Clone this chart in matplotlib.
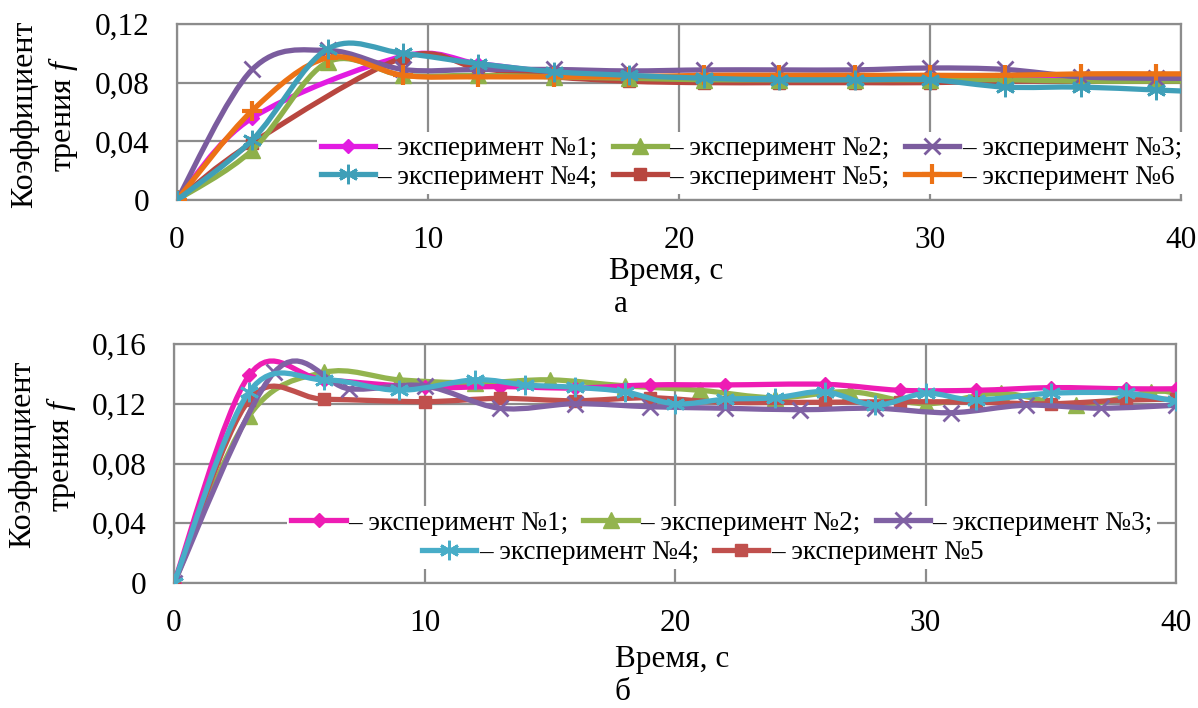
import numpy as np
import matplotlib
matplotlib.use("Agg")
import matplotlib.pyplot as plt
from matplotlib.path import Path
from matplotlib.patches import PathPatch
from matplotlib.lines import Line2D

plt.rcParams['font.family'] = ['Liberation Serif', 'DejaVu Serif']
plt.rcParams['mathtext.fontset'] = 'custom'
plt.rcParams['mathtext.it'] = 'Liberation Serif:italic'
plt.rcParams['mathtext.rm'] = 'Liberation Serif'

# ---- data: panel (а) ----
t_a = [0, 3, 6, 9, 12, 15, 18, 21, 24, 27, 30, 33, 36, 39, 42]
t_a15 = [0, 3, 9, 12, 15, 18, 21, 24, 27, 30, 33, 36, 39, 42]  # no reading at 6 s
f_a1 = [0, 0.056, 0.098, 0.093, 0.087, 0.084, 0.083, 0.083, 0.083, 0.083, 0.083, 0.083, 0.083, 0.083]
f_a2 = [0, 0.034, 0.094, 0.085, 0.085, 0.084, 0.083, 0.082, 0.082, 0.082, 0.082, 0.082, 0.081, 0.081, 0.081]
f_a3 = [0, 0.089, 0.102, 0.089, 0.089, 0.089, 0.088, 0.0887, 0.0887, 0.0887, 0.090, 0.089, 0.084, 0.083, 0.083]
f_a4 = [0, 0.041, 0.103, 0.100, 0.093, 0.0875, 0.085, 0.083, 0.082, 0.082, 0.082, 0.077, 0.077, 0.075, 0.073]
f_a5 = [0, 0.039, 0.097, 0.090, 0.084, 0.081, 0.080, 0.080, 0.080, 0.080, 0.081, 0.081, 0.081, 0.081]
f_a6 = [0, 0.061, 0.097, 0.085, 0.084, 0.084, 0.084, 0.085, 0.085, 0.085, 0.085, 0.085, 0.086, 0.086, 0.086]

# ---- data: panel (б) ----
t_b1 = [0, 3, 6, 10, 13, 16, 19, 22, 26, 29, 32, 35, 38, 40]
f_b1 = [0, 0.139, 0.136, 0.131, 0.1315, 0.1305, 0.1326, 0.1326, 0.133, 0.129, 0.129, 0.1308, 0.130, 0.130]
t_b2 = [0, 3, 6, 9, 12, 15, 18, 21, 24, 27, 30, 33, 36, 39, 40]
f_b2 = [0, 0.112, 0.141, 0.136, 0.134, 0.136, 0.132, 0.129, 0.124, 0.128, 0.120, 0.127, 0.119, 0.128, 0.127]
t_b3 = [0, 4, 7, 10, 13, 16, 19, 22, 25, 28, 31, 34, 37, 40]
f_b3 = [0, 0.141, 0.130, 0.132, 0.117, 0.120, 0.118, 0.117, 0.116, 0.117, 0.114, 0.119, 0.117, 0.119]
t_b4 = [0, 3, 6, 9, 12, 14, 16, 18, 20, 22, 24, 26, 28, 30, 32, 35, 38, 40]
f_b4 = [0, 0.128, 0.136, 0.129, 0.136, 0.1326, 0.131, 0.128, 0.120, 0.123, 0.124, 0.128, 0.119, 0.127, 0.1225, 0.127, 0.127, 0.1216]
t_b5 = [0, 3, 6, 10, 13, 16, 19, 22, 26, 29, 32, 35, 38, 40]
f_b5 = [0, 0.1225, 0.123, 0.1214, 0.1236, 0.122, 0.124, 0.121, 0.121, 0.1214, 0.121, 0.120, 0.1225, 0.123]

labels_a = ['– эксперимент №1;', '– эксперимент №2;', '– эксперимент №3;',
            '– эксперимент №4;', '– эксперимент №5;', '– эксперимент №6']
labels_b = ['– эксперимент №1;', '– эксперимент №2;', '– эксперимент №3;',
            '– эксперимент №4;', '– эксперимент №5']

yticks_a = [0, 0.04, 0.08, 0.12]
ylabels_a = ['0', '0,04', '0,08', '0,12']
yticks_b = [0, 0.04, 0.08, 0.12, 0.16]
ylabels_b = ['0', '0,04', '0,08', '0,12', '0,16']
xticks = [0, 10, 20, 30, 40]

GRID = '#8c8c8c'
FS = 22.5
LW = 3.8

# marker style per experiment: (marker, size, edge width)
styles = [
    ('D', 7, 1),
    ('^', 11, 1),
    ('x', 12, 2),
    ((6, 2, 0), 14, 2),
    ('s', 9, 1),
    ('+', 14, 3),
]


def smooth_path(x, y):
    # cubic bezier through the points, Excel-style smoothing
    pts = np.column_stack([x, y]).astype(float)
    verts = [pts[0]]
    codes = [Path.MOVETO]
    n = len(pts)
    for i in range(n - 1):
        p0 = pts[i - 1] if i > 0 else pts[i]
        p1, p2 = pts[i], pts[i + 1]
        p3 = pts[i + 2] if i + 2 < n else pts[i + 1]
        verts += [p1 + (p2 - p0) / 6, p2 - (p3 - p1) / 6, p2]
        codes += [Path.CURVE4] * 3
    return Path(verts, codes)


def draw_series(ax, x, y, color, style, z):
    marker, ms, mew = style
    ax.add_patch(PathPatch(smooth_path(x, y), fill=False, ec=color, lw=LW,
                           capstyle='round', joinstyle='round', zorder=z))
    ax.plot(x, y, ls='none', marker=marker, ms=ms, mew=mew, color=color,
            mec=color, zorder=z + 0.1)
    return Line2D([], [], color=color, lw=LW, marker=marker, ms=ms, mew=mew, mec=color)


def setup_axes(ax, yticks, ylabels, ymax, ylab_xy, xlab_xy):
    ax.set_xlim(0, 40)
    ax.set_ylim(0, ymax)
    ax.set_xticks(xticks)
    ax.set_yticks(yticks)
    ax.set_yticklabels(ylabels)
    ax.tick_params(length=0, labelsize=FS)
    ax.tick_params(axis='y', pad=20)
    ax.tick_params(axis='x', pad=19)
    ax.grid(True, color=GRID, lw=1.6, zorder=0)
    ax.set_axisbelow(True)
    for sp in ax.spines.values():
        sp.set_color(GRID)
        sp.set_linewidth(1.6)
    ax.set_ylabel('Коэффициент\nтрения $f$', fontsize=23, linespacing=1.25,
                  va='center', ha='center')
    ax.yaxis.set_label_coords(*ylab_xy)
    ax.set_xlabel('Время, с', fontsize=FS, va='center', ha='center')
    ax.xaxis.set_label_coords(*xlab_xy)


fig = plt.figure(figsize=(11.98, 7.08), dpi=100)
ax1 = fig.add_axes([177 / 1198, 1 - 200 / 708, 1004 / 1198, 176 / 708])
ax2 = fig.add_axes([174 / 1198, 1 - 583 / 708, 1002 / 1198, 239 / 708])

leg_kw = dict(fontsize=19.5, frameon=True, framealpha=1, edgecolor='none',
              handlelength=2.0, handletextpad=0.1, columnspacing=0.55,
              borderpad=0.15, labelspacing=0.12, fancybox=False, loc='center')

# panel (а)
colors_a = ['#e21be2', '#8eb04a', '#7b5c9e', '#3f9fb8', '#b8463f', '#ec7215']
series_a = [(t_a15, f_a1), (t_a, f_a2), (t_a, f_a3), (t_a, f_a4), (t_a15, f_a5), (t_a, f_a6)]
zord_a = [3, 3.5, 4, 5, 3.2, 4.5]
handles_a = [draw_series(ax1, t, s, c, st, z)
             for (t, s), c, st, z in zip(series_a, colors_a, styles, zord_a)]
setup_axes(ax1, yticks_a, ylabels_a, 0.12, (-0.1315, 0.489), (0.487, -0.409))
# legend fills by column, so interleave to get rows 1-2-3 / 4-5-6
order = [0, 3, 1, 4, 2, 5]
leg = ax1.legend([handles_a[i] for i in order], [labels_a[i] for i in order], ncol=3,
                 bbox_to_anchor=(0.572, 0.21), **leg_kw)
leg.set_zorder(6)
fig.text(621 / 1198, 1 - 305 / 708, 'а', ha='center', va='center', fontsize=FS)

# panel (б)
colors_b = ['#ee1cb4', '#93b44e', '#8062a4', '#48adc8', '#c0504d']
series_b = [(t_b1, f_b1), (t_b2, f_b2), (t_b3, f_b3), (t_b4, f_b4), (t_b5, f_b5)]
zord_b = [3, 2.8, 4, 5, 3.2]
handles_b = [draw_series(ax2, t, s, c, st, z)
             for (t, s), c, st, z in zip(series_b, colors_b, styles, zord_b)]
setup_axes(ax2, yticks_b, ylabels_b, 0.16, (-0.1307, 0.5375), (0.497, -0.321))
leg1 = ax2.legend(handles_b[:3], labels_b[:3], ncol=3, bbox_to_anchor=(0.547, 0.251), **leg_kw)
leg1.set_zorder(6)
ax2.add_artist(leg1)
leg2 = ax2.legend(handles_b[3:], labels_b[3:], ncol=2, bbox_to_anchor=(0.528, 0.126), **leg_kw)
leg2.set_zorder(6)
fig.text(622 / 1198, 1 - 693 / 708, 'б', ha='center', va='center', fontsize=FS)

fig.savefig('out.png', dpi=100)
